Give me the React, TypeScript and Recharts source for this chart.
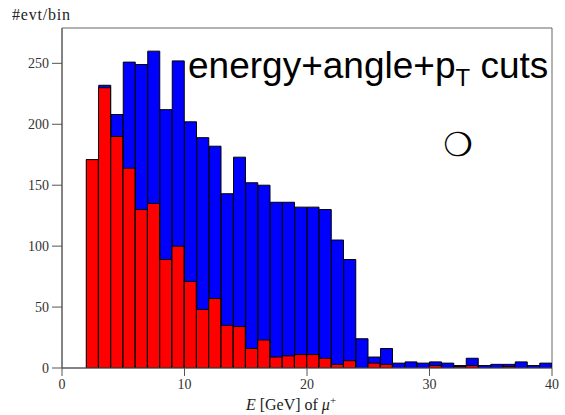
import React from "react";
import { ComposedChart, Bar, XAxis, YAxis, ReferenceArea, Label } from "recharts";

// bin centres, 1 GeV wide bins from 0 to 40
const binCenters = [
  0.5, 1.5, 2.5, 3.5, 4.5, 5.5, 6.5, 7.5, 8.5, 9.5,
  10.5, 11.5, 12.5, 13.5, 14.5, 15.5, 16.5, 17.5, 18.5, 19.5,
  20.5, 21.5, 22.5, 23.5, 24.5, 25.5, 26.5, 27.5, 28.5, 29.5,
  30.5, 31.5, 32.5, 33.5, 34.5, 35.5, 36.5, 37.5, 38.5, 39.5
];

const blueCounts = [
  0, 0, 171, 232, 208, 251, 249, 260, 212, 252,
  202, 189, 182, 143, 173, 152, 150, 136, 136, 132,
  132, 130, 105, 89, 24, 9, 16, 4, 5, 4,
  5, 4, 2, 8, 2, 3, 3, 5, 2, 4
];

const redCounts = [
  0, 0, 171, 230, 190, 164, 130, 135, 89, 100,
  71, 48, 57, 35, 34, 16, 23, 9, 10, 11,
  11, 8, 3, 6, 0, 4, 3, 0, 0, 0,
  2, 0, 1, 2, 0, 0, 1, 0, 0, 0
];

const xTicks = [0, 10, 20, 30, 40];
const yTicks = [0, 50, 100, 150, 200, 250];
const yMax = 279;

const data = binCenters.map((x, i) => ({ x, blue: blueCounts[i], red: redCounts[i] }));

const serif = "'Liberation Serif', 'DejaVu Serif', serif";
const sans = "'Liberation Sans', Arial, sans-serif";

function YTitle(props: any) {
  const vb = props.viewBox || { x: 0, y: 28 };
  return (
    <text x={vb.x + 12} y={vb.y - 8} fontFamily={serif} fontSize={16} letterSpacing={0.8} fill="#222">
      #evt/bin
    </text>
  );
}

function XTitle(props: any) {
  const vb = props.viewBox || { x: 62, y: 368, width: 490 };
  return (
    <text x={vb.x + 229} y={vb.y + 42} textAnchor="middle" fontFamily={serif} fontSize={16} fill="#222">
      <tspan fontStyle="italic">E</tspan>
      <tspan> [GeV] of </tspan>
      <tspan fontStyle="italic">μ</tspan>
      <tspan fontSize={11} dy={-6}>+</tspan>
    </text>
  );
}

function Annotation(props: any) {
  const vb = props.viewBox || { x: 62, y: 28 };
  return (
    <g>
      <text x={vb.x + 126} y={vb.y + 50} fontFamily={sans} fontSize={37} fill="#000">
        energy+angle+p
        <tspan fontSize={24} dy={8}>T</tspan>
        <tspan dy={-8}> cuts</tspan>
      </text>
      <text x={vb.x + 396} y={vb.y + 128} textAnchor="middle" fontFamily="'DejaVu Sans', sans-serif" fontSize={33} fill="#000">
        ❍
      </text>
    </g>
  );
}

export default function App() {
  return (
    <div style={{ position: "absolute", left: 0, top: 0, width: 565, height: 415, background: "#fff" }}>
      <ComposedChart
        width={565}
        height={415}
        data={data}
        margin={{ top: 28, right: 13, left: 0, bottom: 0 }}
        barCategoryGap={0}
        barGap="-100%"
      >
        <XAxis
          type="number"
          dataKey="x"
          domain={[0, 40]}
          ticks={xTicks}
          allowDataOverflow
          height={47}
          stroke="#555"
          tickSize={8}
          tickMargin={3}
          tick={{ fill: "#333", fontFamily: serif, fontSize: 14 }}
        >
          <Label content={<XTitle />} />
        </XAxis>
        <YAxis
          type="number"
          domain={[0, yMax]}
          ticks={yTicks}
          allowDataOverflow
          width={62}
          stroke="#555"
          tickSize={10}
          tickMargin={3}
          tick={{ fill: "#333", fontFamily: serif, fontSize: 14 }}
        >
          <Label content={<YTitle />} />
        </YAxis>
        <Bar dataKey="blue" fill="#0000ff" stroke="#000" strokeWidth={1} isAnimationActive={false} />
        <Bar dataKey="red" fill="#ff0000" stroke="#000" strokeWidth={1} isAnimationActive={false} />
        <ReferenceArea x1={0} x2={40} y1={0} y2={yMax} fill="none" stroke="#666" strokeWidth={1} ifOverflow="visible">
          <Label content={<Annotation />} />
        </ReferenceArea>
      </ComposedChart>
    </div>
  );
}
